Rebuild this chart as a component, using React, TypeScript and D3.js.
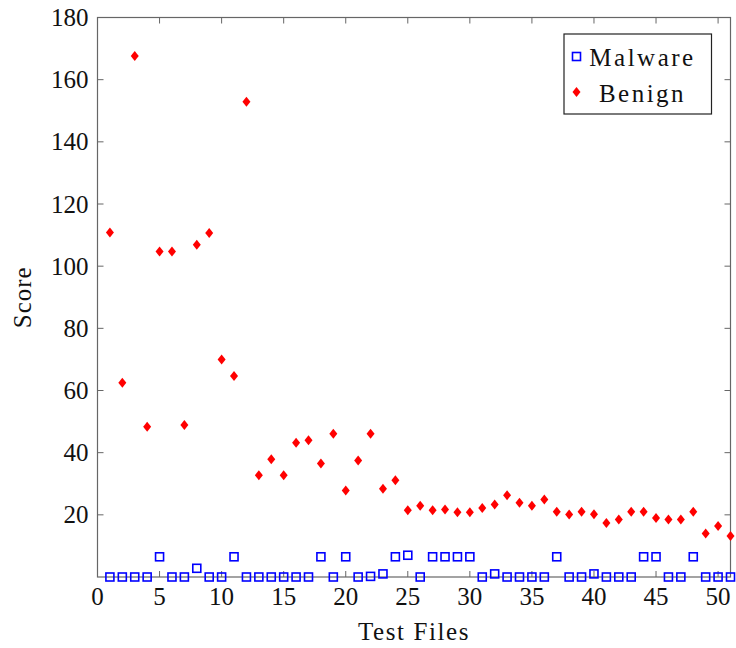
import * as d3 from 'd3';
import React, { useEffect, useRef } from 'react';

// test file index 1..51
const files = d3.range(1, 52);

const malware = [
  0, 0, 0, 0, 6.5, 0, 0, 2.8, 0, 0,
  6.5, 0, 0, 0, 0, 0, 0, 6.5, 0, 6.5,
  0, 0.2, 1, 6.5, 7, 0, 6.5, 6.5, 6.5, 6.5,
  0, 1, 0, 0, 0, 0, 6.5, 0, 0, 1,
  0, 0, 0, 6.5, 6.5, 0, 0, 6.5, 0, 0,
  0,
];

const benign = [
  110.8, 62.5, 167.6, 48.3, 104.7, 104.7, 48.9, 106.9, 110.7, 70,
  64.7, 152.9, 32.7, 37.9, 32.7, 43.2, 44, 36.5, 46.1, 27.8,
  37.5, 46.1, 28.4, 31.1, 21.5, 22.9, 21.5, 21.7, 20.8, 20.8,
  22.2, 23.3, 26.3, 23.9, 22.9, 24.9, 21, 20.1, 21, 20.2,
  17.4, 18.5, 21, 21, 19, 18.5, 18.5, 21, 14, 16.4,
  13.2,
];

const xTicks = [0, 5, 10, 15, 20, 25, 30, 35, 40, 45, 50];
const yTicks = [20, 40, 60, 80, 100, 120, 140, 160, 180];

const FONT = '"Liberation Serif", serif';

export default function App() {
  const ref = useRef<SVGSVGElement>(null);

  useEffect(() => {
    const svg = d3.select(ref.current);
    svg.selectAll('*').remove();

    const width = 736;
    const height = 648;
    const margin = { top: 17.5, right: 5.5, bottom: 71, left: 97.5 };

    const x = d3.scaleLinear().domain([0, 51]).range([margin.left, width - margin.right]);
    const y = d3.scaleLinear().domain([0, 180]).range([height - margin.bottom, margin.top]);

    const axisColor = '#666';
    const tickLen = 6;

    // frame
    svg.append('rect')
      .attr('x', x(0)).attr('y', y(180))
      .attr('width', x(51) - x(0)).attr('height', y(0) - y(180))
      .attr('fill', 'none').attr('stroke', axisColor).attr('stroke-width', 1.2);

    // inward ticks on all sides
    const ticks = svg.append('g').attr('stroke', axisColor).attr('stroke-width', 1);
    xTicks.forEach(t => {
      ticks.append('line').attr('x1', x(t)).attr('x2', x(t)).attr('y1', y(0)).attr('y2', y(0) - tickLen);
      ticks.append('line').attr('x1', x(t)).attr('x2', x(t)).attr('y1', y(180)).attr('y2', y(180) + tickLen);
    });
    yTicks.forEach(t => {
      ticks.append('line').attr('x1', x(0)).attr('x2', x(0) + tickLen).attr('y1', y(t)).attr('y2', y(t));
      ticks.append('line').attr('x1', x(51)).attr('x2', x(51) - tickLen).attr('y1', y(t)).attr('y2', y(t));
    });

    svg.append('g').selectAll('text').data(xTicks).enter().append('text')
      .attr('x', d => x(d)).attr('y', y(0) + 28)
      .attr('text-anchor', 'middle')
      .attr('font-family', FONT).attr('font-size', 25).attr('fill', '#111')
      .text(d => d);

    svg.append('g').selectAll('text').data(yTicks).enter().append('text')
      .attr('x', x(0) - 9).attr('y', d => y(d) + 8.5)
      .attr('text-anchor', 'end')
      .attr('font-family', FONT).attr('font-size', 25).attr('fill', '#111')
      .text(d => d);

    svg.append('text')
      .attr('x', (x(0) + x(51)) / 2).attr('y', 640)
      .attr('text-anchor', 'middle')
      .attr('font-family', FONT).attr('font-size', 25).attr('fill', '#111')
      .attr('letter-spacing', 1.6)
      .text('Test Files');

    svg.append('text')
      .attr('transform', 'translate(31,' + (y(0) + y(180)) / 2 + ') rotate(-90)')
      .attr('text-anchor', 'middle')
      .attr('font-family', FONT).attr('font-size', 25).attr('fill', '#111')
      .attr('letter-spacing', 1)
      .text('Score');

    const diamond = 'M0,-5L4,0L0,5L-4,0Z';
    const sq = 8;

    // malware squares
    svg.append('g').selectAll('rect').data(malware).enter().append('rect')
      .attr('x', (d, i) => x(files[i]) - sq / 2)
      .attr('y', d => y(d) - sq / 2)
      .attr('width', sq).attr('height', sq)
      .attr('fill', 'none').attr('stroke', '#0000ff').attr('stroke-width', 1.6);

    // benign diamonds
    svg.append('g').selectAll('path').data(benign).enter().append('path')
      .attr('transform', (d, i) => 'translate(' + x(files[i]) + ',' + y(d) + ')')
      .attr('d', diamond)
      .attr('fill', '#ff0000');

    // legend
    const lg = svg.append('g');
    lg.append('rect')
      .attr('x', 564).attr('y', 34).attr('width', 147.5).attr('height', 80)
      .attr('fill', 'white').attr('stroke', '#222').attr('stroke-width', 1.2);
    lg.append('rect')
      .attr('x', 576.5 - sq / 2).attr('y', 56.5 - sq / 2).attr('width', sq).attr('height', sq)
      .attr('fill', 'none').attr('stroke', '#0000ff').attr('stroke-width', 1.6);
    lg.append('path')
      .attr('transform', 'translate(576.5,92)')
      .attr('d', diamond).attr('fill', '#ff0000');
    lg.append('text')
      .attr('x', 642.5).attr('y', 65.5).attr('text-anchor', 'middle')
      .attr('font-family', FONT).attr('font-size', 25).attr('fill', '#111')
      .attr('letter-spacing', 2.5)
      .text('Malware');
    lg.append('text')
      .attr('x', 642.5).attr('y', 101.5).attr('text-anchor', 'middle')
      .attr('font-family', FONT).attr('font-size', 25).attr('fill', '#111')
      .attr('letter-spacing', 2.5)
      .text('Benign');
  }, []);

  return (
    <svg ref={ref} width={736} height={648}
      style={{ position: 'absolute', left: 0, top: 0, display: 'block' }} />
  );
}
